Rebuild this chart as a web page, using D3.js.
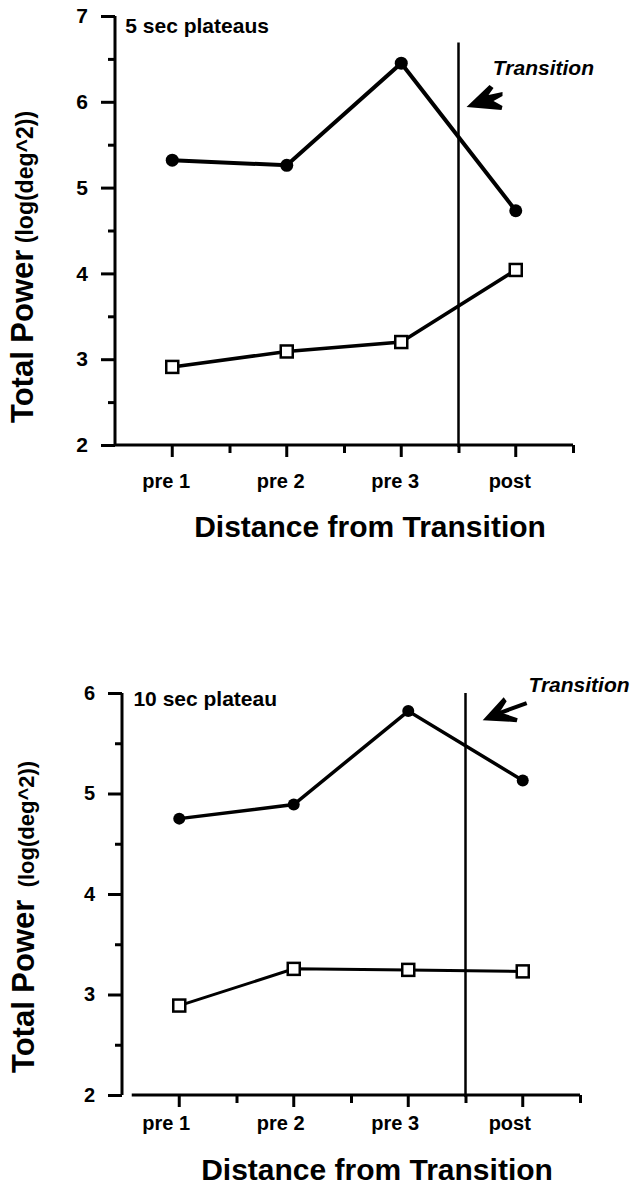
<!DOCTYPE html>
<html><head><meta charset="utf-8">
<script src="https://cdn.jsdelivr.net/npm/d3@7"></script>
<style>
html,body{margin:0;padding:0;background:#fff;}
svg{display:block;font-family:"Liberation Sans",Arial,Helvetica,sans-serif;}
</style></head>
<body>
<svg id="chart" width="635" height="1187"></svg>
<script>
// ---- data ----
const categories = ["pre 1", "pre 2", "pre 3", "post"];
const plateau5Filled = [5.32, 5.26, 6.45, 4.73];
const plateau5Open = [2.91, 3.09, 3.20, 4.04];
const plateau10Filled = [4.75, 4.89, 5.82, 5.13];
const plateau10Open = [2.89, 3.255, 3.245, 3.23];
const ticks5 = [2, 3, 4, 5, 6, 7];
const ticks10 = [2, 3, 4, 5, 6];
const titles = ["5 sec plateaus", "10 sec plateau"];
const transitionIndex = 3; // boundary between pre 3 and post

const svg = d3.select("#chart");
const FONT = '"Liberation Sans",Arial,Helvetica,sans-serif';

const panels = [
  {
    title: titles[0], filled: plateau5Filled, open: plateau5Open, yTicks: ticks5,
    x0: 115, x1: 573, yTop: 16, yBot: 445, yDomain: [2, 7], xAxisStart: 0,
    titlePos: [0.09, 6.80], lineTop: 6.69,
    transText: [3.30, 6.31], arrowTip: [3.07, 5.94], arrowType: "fat",
    yTitleX: 33, yTitleBig: 31, yTitleSmall: 23, yTitleGap: " ",
    tickFont: 21, xLabelY: 488, xLabelDx: -6, xTitleY: 537, xTitleCx: 370,
    lineW: 4, r: 6.5, sq: 12
  },
  {
    title: titles[1], filled: plateau10Filled, open: plateau10Open, yTicks: ticks10,
    x0: 122, x1: 580, yTop: 693, yBot: 1095, yDomain: [2, 6], xAxisStart: 0.085,
    titlePos: [0.10, 5.87], lineTop: 6.0,
    transText: [3.55, 6.01], arrowTip: [3.15, 5.73], arrowType: "thin",
    yTitleX: 34, yTitleBig: 31, yTitleSmall: 22, yTitleGap: "\u00a0\u00a0",
    tickFont: 20, xLabelY: 1130, xLabelDx: -13, xTitleY: 1180, xTitleCx: 377,
    lineW: 3.5, r: 6, sq: 12
  }
];

panels.forEach(p => {
  const g = svg.append("g");
  const xb = d3.scaleBand().domain(categories).range([p.x0, p.x1]).padding(0);
  const xl = d3.scaleLinear().domain([0, categories.length]).range([p.x0, p.x1]);
  const y = d3.scaleLinear().domain(p.yDomain).range([p.yBot, p.yTop]);
  const cx = c => xb(c) + xb.bandwidth() / 2;

  // y axis major
  const yAx = g.append("g").attr("transform", `translate(${p.x0},0)`)
    .call(d3.axisLeft(y).tickValues(p.yTicks).tickSize(14).tickPadding(13).tickFormat(d3.format("d")));
  yAx.select(".domain").attr("stroke-width", 3).attr("d", `M0,${p.yTop}V${p.yBot}`);
  yAx.selectAll(".tick line").attr("stroke-width", 3);
  yAx.selectAll(".tick text").attr("font-size", p.tickFont).attr("font-weight", "bold")
    .attr("font-family", FONT).attr("fill", "#000");
  // y axis minor
  const halves = d3.range(p.yDomain[0] + 0.5, p.yDomain[1], 1);
  const yMin = g.append("g").attr("transform", `translate(${p.x0},0)`)
    .call(d3.axisLeft(y).tickValues(halves).tickSize(7).tickFormat(""));
  yMin.select(".domain").remove();
  yMin.selectAll(".tick line").attr("stroke-width", 3);

  // x axis (ticks at category centres)
  const xAx = g.append("g").attr("transform", `translate(0,${p.yBot})`)
    .call(d3.axisBottom(xb).tickSize(12).tickPadding(14));
  xAx.select(".domain").attr("stroke-width", 3)
    .attr("d", `M${xl(p.xAxisStart)},0H${p.x1}`);
  xAx.selectAll(".tick line").attr("stroke-width", 3);
  xAx.selectAll(".tick text").remove();
  // minor x ticks at boundaries
  const xMin = g.append("g").attr("transform", `translate(0,${p.yBot})`)
    .call(d3.axisBottom(xl).tickValues(d3.range(1, categories.length + 1)).tickSize(8).tickFormat(""));
  xMin.select(".domain").remove();
  xMin.selectAll(".tick line").attr("stroke-width", 3);

  // category labels
  g.selectAll(".catlab").data(categories).join("text")
    .attr("x", d => cx(d) + p.xLabelDx).attr("y", p.xLabelY)
    .attr("text-anchor", "middle").attr("font-size", 20).attr("font-weight", "bold")
    .attr("font-family", FONT).attr("fill", "#000").text(d => d);

  // x title
  g.append("text").attr("x", p.xTitleCx).attr("y", p.xTitleY)
    .attr("text-anchor", "middle").attr("font-size", 30).attr("font-weight", "bold")
    .attr("font-family", FONT).text("Distance from Transition");

  // y title
  const yt = g.append("text")
    .attr("transform", `translate(${p.yTitleX},${p.yBot - 22}) rotate(-90)`)
    .attr("font-weight", "bold").attr("font-family", FONT);
  yt.append("tspan").attr("font-size", p.yTitleBig).text("Total Power");
  yt.append("tspan").attr("font-size", p.yTitleSmall).text(p.yTitleGap + "(log(deg^2))");

  // panel title
  g.append("text").attr("x", xl(p.titlePos[0])).attr("y", y(p.titlePos[1]))
    .attr("font-size", 21).attr("font-weight", "bold").attr("font-family", FONT).text(p.title);

  // transition line
  g.append("line").attr("x1", xl(transitionIndex)).attr("x2", xl(transitionIndex))
    .attr("y1", y(p.lineTop)).attr("y2", p.yBot + 2).attr("stroke", "#000").attr("stroke-width", 2.5);

  // transition label
  g.append("text").attr("x", xl(p.transText[0])).attr("y", y(p.transText[1]))
    .attr("font-size", 21).attr("font-weight", "bold").attr("font-style", "italic")
    .attr("font-family", FONT).text("Transition");

  // arrow
  const tx = xl(p.arrowTip[0]), ty = y(p.arrowTip[1]);
  const ag = g.append("g").attr("transform", `translate(${tx},${ty})`);
  if (p.arrowType === "fat") {
    ag.append("path").attr("d", "M0,0 L23,-22 L27,-19 L22,-12 L36,-15 L36,-11 L27,-6 L36,-1 L35,3 Z").attr("fill", "#000");
  } else {
    ag.append("line").attr("x1", 14).attr("y1", -6).attr("x2", 44).attr("y2", -17)
      .attr("stroke", "#000").attr("stroke-width", 4);
    ag.append("path").attr("d", "M0,0 L21,-23 L24,-19 L17,-8 L35,-2 L34,2 Z").attr("fill", "#000");
  }

  // lines
  const line = d3.line().x((d, i) => cx(categories[i])).y(d => y(d));
  g.append("path").datum(p.filled).attr("d", line).attr("fill", "none")
    .attr("stroke", "#000").attr("stroke-width", p.lineW);
  g.append("path").datum(p.open).attr("d", line).attr("fill", "none")
    .attr("stroke", "#000").attr("stroke-width", p.lineW - 0.5);

  // markers
  g.selectAll(".dot").data(p.filled).join("circle")
    .attr("cx", (d, i) => cx(categories[i])).attr("cy", d => y(d)).attr("r", p.r).attr("fill", "#000");
  g.selectAll(".sq").data(p.open).join("rect")
    .attr("x", (d, i) => cx(categories[i]) - p.sq / 2).attr("y", d => y(d) - p.sq / 2)
    .attr("width", p.sq).attr("height", p.sq).attr("fill", "#fff")
    .attr("stroke", "#000").attr("stroke-width", 2.5);
});
</script>
</body></html>
